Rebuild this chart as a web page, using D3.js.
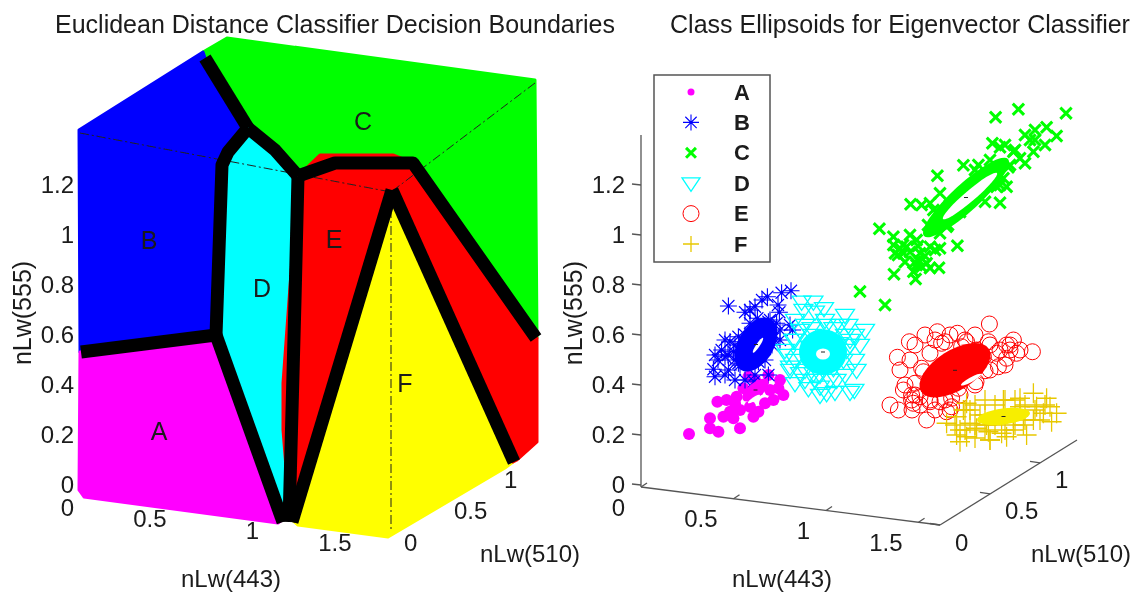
<!DOCTYPE html>
<html>
<head>
<meta charset="utf-8">
<script src="https://cdn.jsdelivr.net/npm/d3@7"></script>
<style>
    html, body {margin: 0; padding: 0; background: #fff;}
    text {font-family: "Liberation Sans", Arial, sans-serif; fill: #1a1a1a;}
</style>
</head>
<body>
<svg id="chart" width="1138" height="595"></svg>
<script>
// view plane values: first number runs along the page, second one is nLw(555) as seen on the axis
const classNames = ["A", "B", "C", "D", "E", "F"];

const regionB = [[0,1.416],[.62,1.728],[.63,1.704],[.845,1.424],[.745,1.328],[.715,1.276],[.685,.596],[.005,.528]];
const regionC = [[.62,1.728],[.74,1.784],[2.28,1.616],[2.29,.584],[1.67,1.284],[1.28,1.284],[1.095,1.232],[.98,1.336],[.845,1.424]];
const regionD = [[.845,1.424],[.98,1.336],[1.095,1.232],[1.045,-.136],[.685,.596],[.715,1.276],[.745,1.328]];
const regionA = [[.005,.528],[.685,.596],[1.015,-.144],[.995,-.156],[.025,-.052],[0,-.024]];
const regionF = [[1.565,1.164],[2.17,.088],[2.13,.064],[1.545,-.212],[1.095,-.164],[1.055,-.136]];
const regionE = [[1.095,1.232],[1.205,1.316],[1.57,1.316],[1.67,1.284],[2.29,.584],[2.29,.168],[2.19,.096],[2.17,.088],
    [1.565,1.164],[1.055,-.136],[1.02,.216],[1.02,.404]];

const boxEdges = [
    [[.005,1.404],[1.56,1.168]],
    [[2.28,1.604],[1.56,1.168]],
    [[1.56,1.168],[1.56,-.184]]
];

const boundaries = [
    [[.63,1.704],[.845,1.424]],
    [[.845,1.424],[.745,1.328],[.715,1.276],[.685,.596]],
    [[.845,1.424],[.98,1.336],[1.095,1.232]],
    [[1.095,1.232],[1.08,.736],[1.05,-.152]],
    [[1.095,1.232],[1.28,1.284],[1.67,1.284],[2.285,.584]],
    [[1.565,1.176],[1.065,-.152]],
    [[1.565,1.176],[2.175,.088]],
    [[.01,.528],[.685,.596]],
    [[.685,.596],[1.02,-.152]]
];

const pointsA = [[.24,.2],[.345,.263],[.387,.209],[.495,.223],[.382,.329],[.428,.336],[.478,.349],[.412,.269],[.462,.263],
    [.562,.269],[.587,.289],[.62,.323],[.512,.383],[.57,.416],[.637,.436],[.695,.416],[.712,.356],[.545,.309],[.495,.296],
    [.645,.376],[.587,.376],[.445,.289],[.345,.223],[.537,.429],[.687,.383],[.47,.323],[.662,.336]];
const pointsB = [[.437,.712],[.52,.687],[.57,.709],[.632,.749],[.703,.765],[.75,.773],[.692,.687],[.582,.663],[.637,.649],
    [.695,.616],[.758,.616],[.645,.603],[.595,.616],[.553,.596],[.487,.589],[.445,.569],[.403,.536],[.37,.516],[.362,.459],
    [.37,.429],[.437,.456],[.487,.483],[.52,.496],[.587,.489],[.637,.436],[.565,.409],[.537,.556],[.503,.529],[.462,.529],
    [.42,.509],[.47,.496],[.612,.549],[.662,.583],[.545,.643],[.678,.643],
    [.47,.556],[.52,.596],[.545,.536],[.495,.476],[.435,.516],[.595,.616],[.645,.656],[.695,.576],[.62,.496],[.57,.436],
    [.52,.416],[.42,.436],[.47,.416],[.385,.496],[.685,.716],[.605,.736],[.545,.696],[.655,.556],[.745,.636],[.42,.576]];
const pointsC = [[1.773,1.467],[1.887,1.499],[2.125,1.483],[1.757,1.363],[1.795,1.347],[1.482,1.233],[1.612,1.275],[1.692,1.192],
    [1.795,1.125],[1.348,1.119],[1.192,1.021],[1.262,.989],[1.582,.953],[1.49,.865],[1.265,.839],[1.373,.82],[1.095,.77],[1.22,.716],
    [1.97,1.416],[2.028,1.427],[2.078,1.392],[1.945,1.376],[2.02,1.356],[1.962,1.329],[1.862,1.329],[1.895,1.303],[1.92,1.283],
    [1.837,1.267],[1.812,1.223],[1.828,1.189],[1.778,1.189],[1.72,1.129],[1.687,1.276],[1.495,1.163],[1.445,1.123],[1.403,1.116],
    [1.462,1.096],[1.528,1.029],[1.495,1.003],[1.345,.996],[1.378,.976],[1.262,.956],[1.295,.943],[1.328,.949],[1.27,.923],
    [1.312,.923],[1.395,.923],[1.495,.943],[1.445,.949],[1.378,.876],[1.403,.869],[1.428,.883],[1.362,.849],[1.387,.896],
    [1.31,.956],[1.345,.928],[1.385,.952],[1.42,.912],[1.47,.936],[1.37,.888],[1.445,.864],[1.32,.888],[1.285,.916],
    [1.87,1.336],[1.82,1.356],[1.92,1.396],[1.97,1.376],[1.845,1.276],[1.745,1.296],[1.67,1.256],[1.72,1.216],[1.795,1.196],
    [1.545,1.116],[1.495,1.076],[1.435,1.036],[1.595,1.088],[1.535,1.036]];
const pointsD = [[.803,.729],[.862,.729],[.915,.703],[.812,.696],[.87,.689],[1.02,.676],[.928,.636],[1.037,.636],[.853,.623],
    [1.07,.596],[.795,.616],[.762,.576],[1.02,.596],[.987,.563],[.728,.516],[.77,.496],[1.028,.536],[1.078,.456],[.962,.463],
    [.895,.436],[.77,.403],[.837,.383],[.928,.363],[1.067,.376],[.978,.416],[1.012,.496],[.82,.416],[.895,.389],[.795,.443],
    [.745,.469],[1.045,.556],[.962,.623],[.845,.549],[.862,.443],
    [.77,.576],[.795,.516],[.82,.456],[.87,.416],[.945,.416],[1.02,.436],[1.07,.496],[1.045,.576],[.995,.636],[.92,.656],
    [.82,.636],[.72,.536],[.745,.456],[1.095,.556],[1.12,.616],[.77,.656],[.97,.368],[.895,.356],[1.045,.368],[.855,.596]];
const pointsE = [[1.742,.64],[1.342,.569],[1.282,.507],[1.482,.609],[1.582,.603],[1.52,.569],[1.628,.569],[1.445,.523],[1.737,.569],
    [1.862,.576],[1.828,.556],[1.957,.529],[1.878,.523],[1.778,.523],[1.828,.503],[1.787,.469],[1.72,.453],[1.675,.409],[1.403,.463],
    [1.37,.403],[1.312,.376],[1.245,.316],[1.287,.296],[1.362,.323],[1.428,.256],[1.528,.289],[1.553,.343],[1.495,.329],[1.445,.329],
    [1.395,.349],[1.587,.383],[1.412,.449],[1.353,.356],[1.503,.563],[1.603,.549],[1.712,.509],[1.678,.536],[1.845,.536],[1.353,.336],[1.553,.309],
    [1.37,.556],[1.42,.596],[1.47,.576],[1.545,.596],[1.62,.576],[1.67,.596],[1.745,.556],[1.795,.536],[1.845,.556],[1.895,.536],
    [1.82,.476],[1.745,.456],[1.67,.396],[1.595,.356],[1.52,.336],[1.445,.336],[1.37,.356],[1.32,.396],[1.295,.456],[1.345,.496],
    [1.395,.316],[1.47,.296],[1.545,.296],[1.355,.296]];
const pointsF = [[1.528,.243],[1.578,.269],[1.628,.323],[1.72,.336],[1.645,.296],[1.695,.276],[1.595,.216],[1.628,.189],[1.578,.196],
    [1.678,.223],[1.737,.209],[1.812,.336],[1.895,.343],[1.962,.363],[2.028,.343],[2.078,.283],[2.012,.283],[1.962,.256],[1.912,.236],
    [1.862,.216],[1.928,.196],[1.803,.203],[1.745,.176],[1.595,.169],[1.828,.189],[1.895,.309],[1.645,.243],[1.978,.309],[2.053,.249],
    [1.728,.236],[1.612,.296],[2.045,.309],[1.862,.263],
    [1.62,.296],[1.67,.316],[1.72,.276],[1.77,.316],[1.82,.336],[1.87,.336],[1.92,.316],[1.97,.296],[2.02,.316],[1.67,.236],
    [1.72,.216],[1.77,.236],[1.82,.216],[1.87,.236],[1.92,.256],[1.62,.216],[1.67,.184],[1.745,.176],[1.995,.256],[1.57,.236]];

// ellipsoid outlines: two ends of the long axis, then short/long ratio
const ellipsoids = [
    {name: "A", outer: [[.51,.336],[.635,.416],.45], hole: [[.535,.324],[.595,.356],.25]},
    {name: "B", outer: [[.5,.456],[.65,.66],.6], hole: [[.56,.525],[.61,.585],.2]},
    {name: "C", outer: [[1.415,.992],[1.835,1.3],.24], hole: [[1.51,1.06],[1.78,1.244],.15]},
    {name: "D", outer: [[.79,.528],[1.03,.528],.95], hole: [[.875,.52],[.945,.52],.8]},
    {name: "E", outer: [[1.4,.37],[1.74,.54],.5], hole: [[1.6,.395],[1.7,.44],.2]},
    {name: "F", outer: [[1.68,.256],[1.945,.284],.3], hole: null}
];

const ticks555 = [0, 0.2, 0.4, 0.6, 0.8, 1, 1.2];
const ticks443 = [0, 0.5, 1, 1.5];
const ticks510 = [0, 0.5, 1];

const COLORS = {A: "#ff00ff", B: "#0000ff", C: "#00ff00", D: "#00ffff", E: "#ff0000", F: "#e8c800"};
const BOUNDARY_WIDTH = 13;
const PANEL_SHIFT = 551;
const AXIS_FONT = 24;
const TITLE_FONT = 25;

const svg = d3.select("#chart");
svg.append("filter").attr("id", "soft")
    .attr("filterUnits", "userSpaceOnUse")
    .attr("x", 0).attr("y", 0).attr("width", 1138).attr("height", 595)
    .append("feGaussianBlur").attr("stdDeviation", 0.7);
const root = svg.append("g").attr("filter", "url(#soft)");

const scaleV = d3.scaleLinear().domain([0, 1.2]).range([484, 184]);
const scaleLeft = d3.scaleLinear().domain([0, 1]).range([79, 279]);
const scaleRight = d3.scaleLinear().domain([0, 1]).range([641, 841]);

// the box axes on the page, scale range holds [x, y] pairs
const axis443 = d3.scaleLinear().domain([0, 1.616]).range([[641, 487], [940, 525]]);
const axis510 = d3.scaleLinear().domain([0, 1.37]).range([[940, 525], [1077, 440]]);

const project = (scaleU) => d => [scaleU(d[0]), scaleV(d[1])];

function markerPath(name, r) {
    let p = d3.path();
    if (name === "A" || name === "E") {
        p.moveTo(r, 0);
        p.arc(0, 0, r, 0, 2 * Math.PI);
    } else if (name === "D") {
        p.moveTo(-r, -r * 0.6);
        p.lineTo(r, -r * 0.6);
        p.lineTo(0, r * 0.9);
        p.closePath();
    } else {
        let angles = name === "B" ? [0, 45, 90, 135] : name === "C" ? [45, 135] : [0, 90];
        for (let a of angles) {
            let c = Math.cos(a * Math.PI / 180) * r, s = Math.sin(a * Math.PI / 180) * r;
            p.moveTo(-c, -s);
            p.lineTo(c, s);
        }
    }
    return p.toString();
}

function addMarkers(group, name, xy, r) {
    let isSolid = name === "A";
    let widths = {C: 3, F: 1.3, B: 1.1, D: 1.3};
    group.append("path")
        .attr("transform", "translate(" + xy[0] + "," + xy[1] + ")")
        .attr("d", markerPath(name, r))
        .attr("fill", isSolid ? COLORS[name] : "none")
        .attr("stroke", isSolid ? "none" : COLORS[name])
        .attr("stroke-width", widths[name] || 1);
}

function drawEllipse(group, spec, scaleU, fill) {
    let a = [scaleU(spec[0][0]), scaleV(spec[0][1])];
    let b = [scaleU(spec[1][0]), scaleV(spec[1][1])];
    let rx = Math.hypot(b[0] - a[0], b[1] - a[1]) / 2;
    let angle = Math.atan2(b[1] - a[1], b[0] - a[0]) * 180 / Math.PI;
    group.append("ellipse")
        .attr("transform", "translate(" + (a[0] + b[0]) / 2 + "," + (a[1] + b[1]) / 2 + ") rotate(" + angle + ")")
        .attr("rx", rx)
        .attr("ry", rx * spec[2])
        .attr("fill", fill);
}

function addText(group, label, x, y, size, opts = {}) {
    group.append("text")
        .attr("x", x)
        .attr("y", y)
        .attr("font-size", size)
        .attr("font-weight", opts.weight || "normal")
        .attr("text-anchor", opts.anchor || "middle")
        .attr("dominant-baseline", "central")
        .attr("transform", opts.rotate ? "rotate(" + opts.rotate + " " + x + " " + y + ")" : null)
        .text(label);
}

function drawAxisLabels(group, shift) {
    for (let t of ticks555) {
        addText(group, t, 625 - shift, scaleV(t), AXIS_FONT, {anchor: "end"});
    }
    for (let t of ticks443) {
        let p = axis443(t);
        addText(group, t, p[0] - 16 - shift, p[1] + 20, AXIS_FONT, {anchor: "end"});
    }
    for (let t of ticks510) {
        let p = axis510(t);
        addText(group, t, p[0] + 15 - shift, p[1] + 17, AXIS_FONT, {anchor: "start"});
    }
    addText(group, "nLw(443)", 782 - shift, 578, AXIS_FONT);
    addText(group, "nLw(510)", 1081 - shift, 553, AXIS_FONT);
    addText(group, "nLw(555)", 573 - shift, 313, 25, {rotate: -90});
}

function drawLeft() {
    let g = root.append("g");
    let toPx = project(scaleLeft);
    let line = d3.line().x(d => toPx(d)[0]).y(d => toPx(d)[1]);
    let regions = [["C", regionC], ["B", regionB], ["A", regionA], ["F", regionF], ["D", regionD], ["E", regionE]];
    let fills = {F: "#ffff00"};

    g.selectAll(".region").data(regions).enter().append("path")
        .attr("class", "region")
        .attr("d", d => line(d[1]) + "Z")
        .attr("fill", d => fills[d[0]] || COLORS[d[0]])
        .attr("stroke", d => fills[d[0]] || COLORS[d[0]])
        .attr("stroke-width", 3)
        .attr("stroke-linejoin", "round");

    g.selectAll(".edge").data(boxEdges).enter().append("path")
        .attr("class", "edge")
        .attr("d", line)
        .attr("fill", "none")
        .attr("stroke", "#222")
        .attr("stroke-width", 1)
        .attr("stroke-dasharray", "9 3 2 3");

    g.selectAll(".boundary").data(boundaries).enter().append("path")
        .attr("class", "boundary")
        .attr("d", line)
        .attr("fill", "none")
        .attr("stroke", "#000")
        .attr("stroke-width", BOUNDARY_WIDTH)
        .attr("stroke-linejoin", "round");

    let labelSpots = [[.4,.212],[.35,.976],[1.42,1.452],[.915,.784],[1.275,.98],[1.63,.404]];
    classNames.forEach((c, i) => {
        let p = toPx(labelSpots[i]);
        addText(g, c, p[0], p[1], 25);
    });

    addText(g, "Euclidean Distance Classifier Decision Boundaries", 335, 24, TITLE_FONT);
    drawAxisLabels(g, PANEL_SHIFT);
}

function drawRight() {
    let g = root.append("g");
    let toPx = project(scaleRight);
    let seriesByClass = {A: pointsA, B: pointsB, C: pointsC, D: pointsD, E: pointsE, F: pointsF};
    let markerSize = {A: 6, B: 8.5, C: 8, D: 9.5, E: 8, F: 10};
    let ellipseFill = {F: "#f7ee00"};

    for (let c of classNames) {
        for (let d of seriesByClass[c]) {
            addMarkers(g, c, toPx(d), markerSize[c]);
        }
    }
    for (let e of ellipsoids) {
        drawEllipse(g, e.outer, scaleRight, ellipseFill[e.name] || COLORS[e.name]);
        if (e.hole) {
            drawEllipse(g, e.hole, scaleRight, "#fff");
        }
        let a = e.outer[0], b = e.outer[1];
        let mid = toPx([(a[0] + b[0]) / 2, (a[1] + b[1]) / 2]);
        g.append("line")
            .attr("x1", mid[0] - 2).attr("x2", mid[0] + 2)
            .attr("y1", mid[1]).attr("y2", mid[1])
            .attr("stroke", "#222");
    }

    // 3d box axes
    let axisColor = "#555";
    let segment = (p, q) => g.append("line")
        .attr("x1", p[0]).attr("y1", p[1]).attr("x2", q[0]).attr("y2", q[1])
        .attr("stroke", axisColor).attr("stroke-width", 1.3);
    segment([641, 487], [641, 135]);
    segment(axis443(0), axis443.range()[1]);
    segment(axis510(0), axis510.range()[1]);
    for (let t of ticks555) {
        segment([632, scaleV(t)], [641, scaleV(t) + 1]);
    }
    for (let t of ticks443) {
        let p = axis443(t);
        segment(p, [p[0] + 6, p[1] - 4]);
    }
    for (let t of ticks510) {
        let p = axis510(t);
        segment(p, [p[0] - 10, p[1] - 1.5]);
    }

    addText(g, "Class Ellipsoids for Eigenvector Classifier", 900, 24, TITLE_FONT);
    drawAxisLabels(g, 0);

    // legend
    let legend = g.append("g");
    legend.append("rect")
        .attr("x", 654).attr("y", 75).attr("width", 116).attr("height", 187)
        .attr("fill", "#fff").attr("stroke", "#555").attr("stroke-width", 1.5);
    let rowY = d3.scalePoint().domain(classNames).range([92, 244]);
    let legendSize = {A: 3.5, B: 8, C: 7, D: 9, E: 8, F: 8};
    for (let c of classNames) {
        addMarkers(legend, c, [691, rowY(c)], legendSize[c]);
        addText(legend, c, 734, rowY(c), 22, {anchor: "start", weight: "bold"});
    }
}

drawLeft();
drawRight();
</script>
</body>
</html>
